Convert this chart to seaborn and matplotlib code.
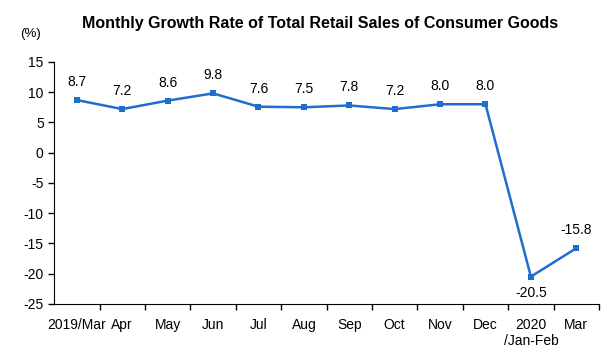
import pandas as pd
import matplotlib.pyplot as plt
import seaborn as sns

months = ["2019/Mar", "Apr", "May", "Jun", "Jul", "Aug", "Sep", "Oct",
          "Nov", "Dec", "2020\n/Jan-Feb", "Mar"]
growth = [8.7, 7.2, 8.6, 9.8, 7.6, 7.5, 7.8, 7.2, 8.0, 8.0, -20.5, -15.8]

df = pd.DataFrame({"month": months, "growth": growth})

sns.set_style("ticks")
plt.rcParams["font.family"] = ["Liberation Sans", "DejaVu Sans"]
plt.rcParams["axes.unicode_minus"] = False
plt.rcParams["text.color"] = "black"
plt.rcParams["xtick.color"] = "black"
plt.rcParams["ytick.color"] = "black"
plt.rcParams["axes.edgecolor"] = "black"

fig = plt.figure(figsize=(6.15, 3.6), dpi=100)
ax = fig.add_axes([0.088, 0.156, 0.886, 0.672])

blue = "#1f6dcc"
sns.lineplot(data=df, x="month", y="growth", ax=ax, color=blue, linewidth=1.8,
             marker="s", markersize=5, markeredgewidth=0, sort=False)

# value labels
for i, v in enumerate(growth):
    if v < -20:
        ax.annotate(f"{v:.1f}", (i, v), xytext=(0, -7), textcoords="offset points",
                    ha="center", va="top", fontsize=10)
    else:
        ax.annotate(f"{v:.1f}", (i, v), xytext=(0, 8), textcoords="offset points",
                    ha="center", va="bottom", fontsize=10)

ax.set_xlim(-0.5, len(months) - 0.5)
ax.set_ylim(-25, 15)
ax.set_yticks(range(-25, 16, 5))
ax.tick_params(axis="y", labelsize=10, length=4, width=1, direction="out")

# categories labelled at centre, ticks between categories
ax.set_xticks(range(len(months)))
ax.set_xticklabels(months, fontsize=7.5, family=["Liberation Sans Narrow", "Liberation Sans"])
ax.tick_params(axis="x", which="major", length=0, pad=10)
ax.set_xticks([i + 0.5 for i in range(len(months))], minor=True)
ax.tick_params(axis="x", which="minor", length=4, width=1, direction="out")

for side in ["top", "right"]:
    ax.spines[side].set_visible(False)
ax.spines["left"].set_position(("data", -0.5))
ax.spines["bottom"].set_position(("data", -25))
ax.set_xlabel("")
ax.set_ylabel("")

fig.text(0.52, 0.935, "Monthly Growth Rate of Total Retail Sales of Consumer Goods",
         ha="center", va="center", fontsize=11.5, fontweight="bold")
fig.text(0.033, 0.905, "(%)", ha="left", va="center", fontsize=9.5)

fig.savefig("out.png", dpi=100)
